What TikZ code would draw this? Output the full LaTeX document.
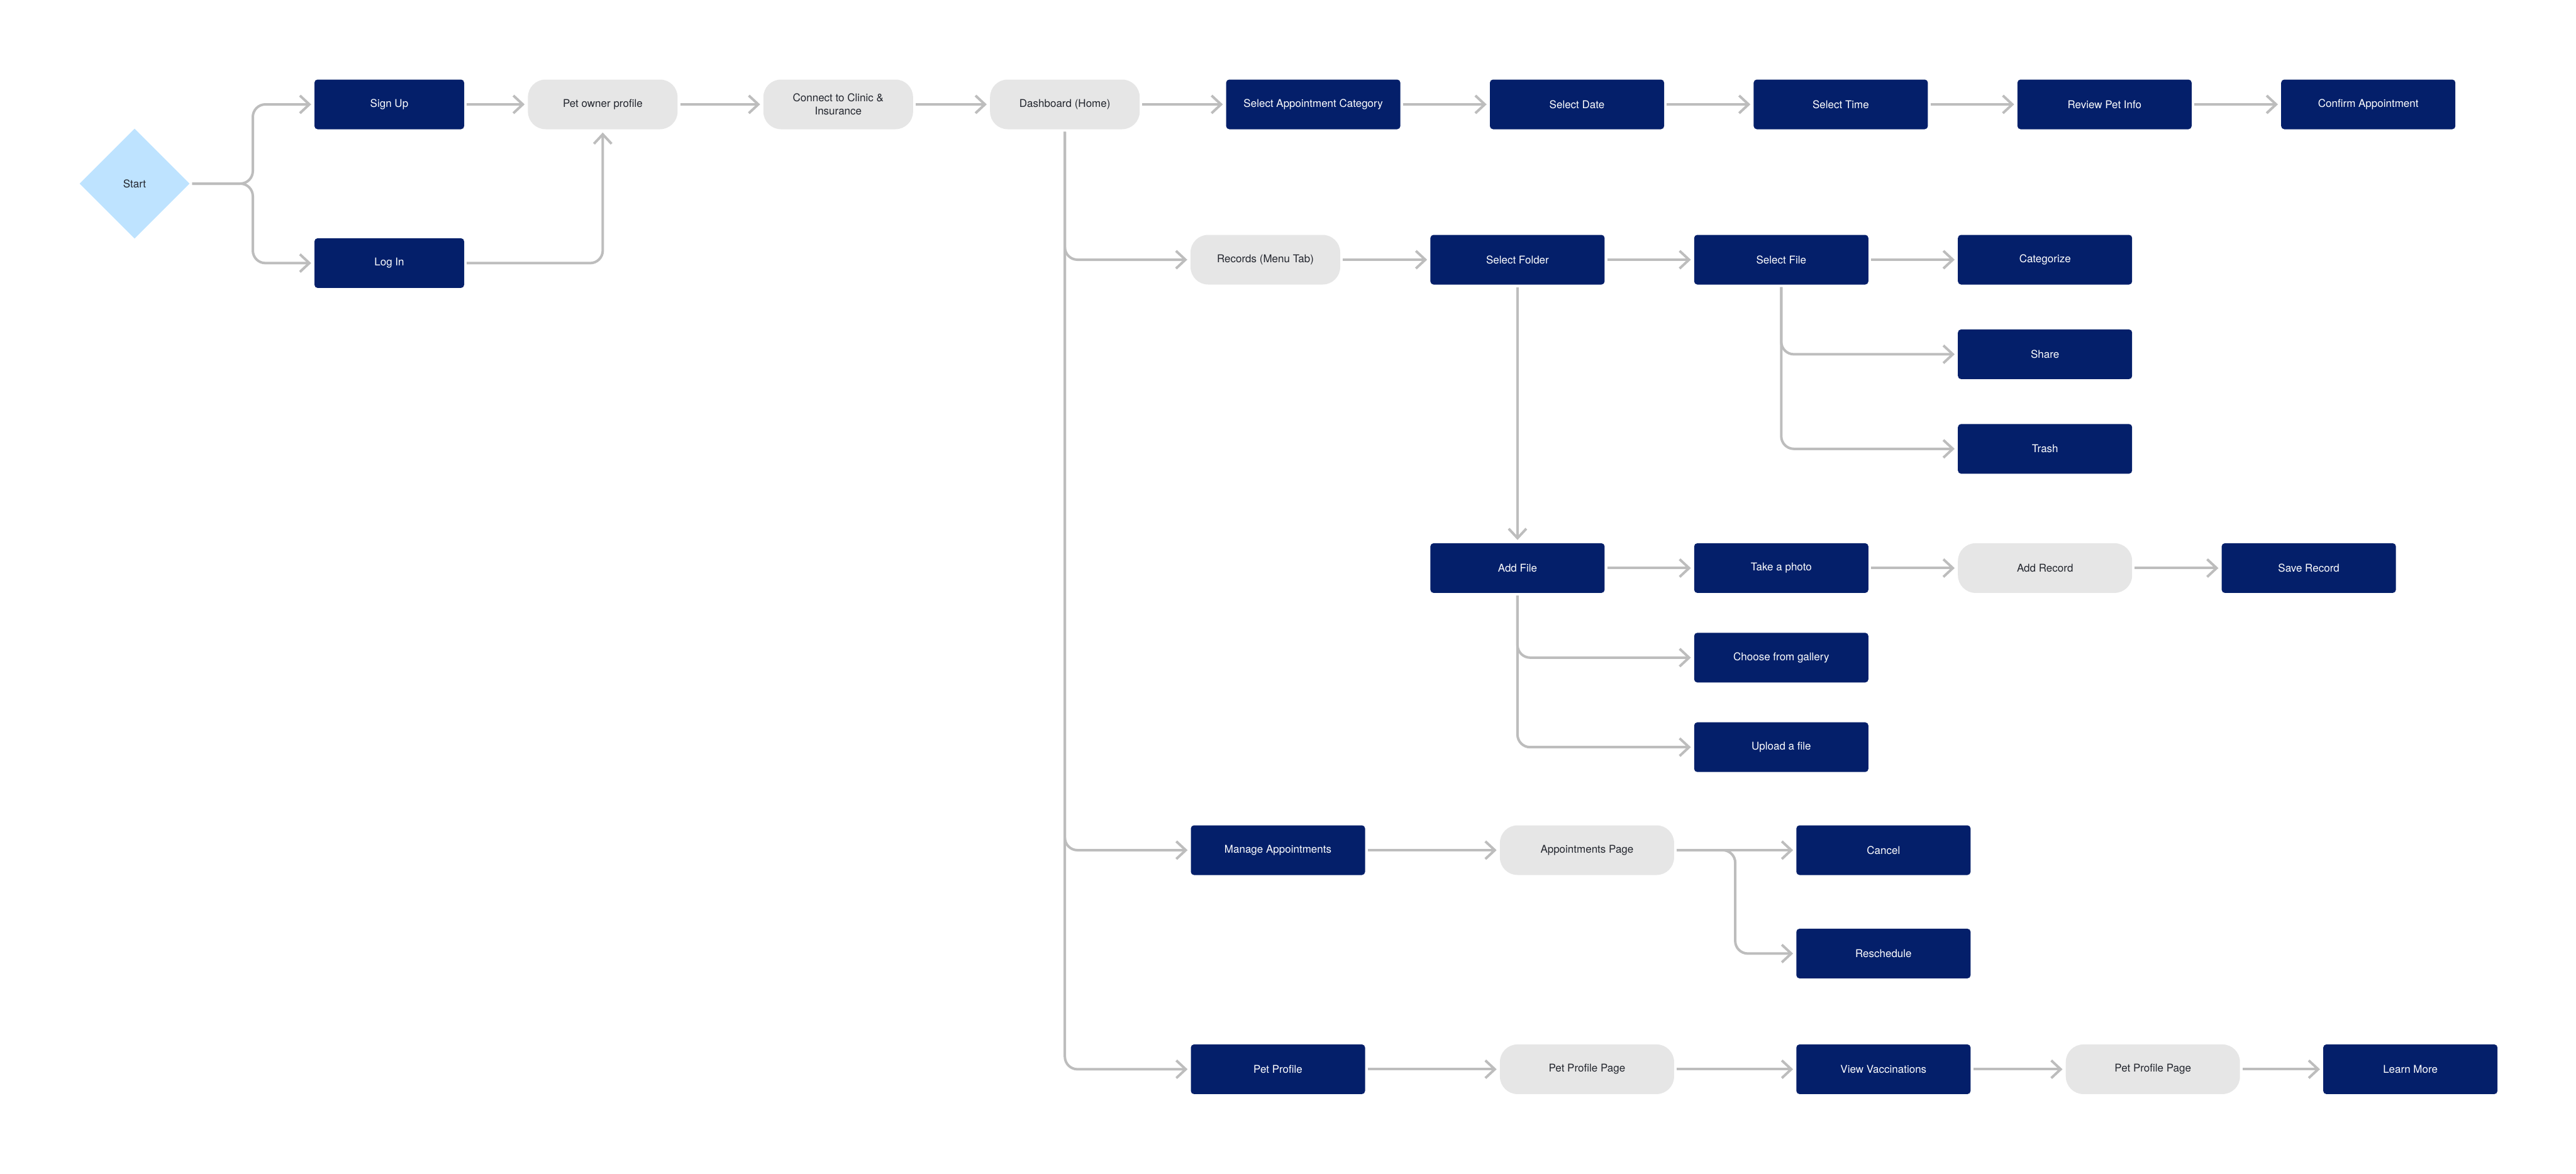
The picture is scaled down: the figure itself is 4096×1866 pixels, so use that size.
\documentclass[tikz,border=0pt]{standalone}
\usepackage{fontspec}
\setmainfont{TeX Gyre Heros}
\usetikzlibrary{arrows.meta, positioning, shapes.geometric}
\definecolor{navy900}{HTML}{041F6A}
\definecolor{grey200}{HTML}{E6E6E6}
\definecolor{grey400}{HTML}{BDBDBD}
\definecolor{ink}{HTML}{23262E}
\definecolor{sky200}{HTML}{BEE3FF}
\tikzset{
  % Flow connector style
  flow/.style={
    draw=grey400
    , line width=4pt
    , rounded corners=20pt
    , -{Straight Barb[length=15pt,width=28pt,line width=4pt]}
    , shorten >=5pt
    , shorten <=4pt
  },
}
\tikzset{
  % action node style
  action/.style={
    fill=navy900
    , text=white
    , rounded corners=5pt
    , minimum width=277pt
    , minimum height=79pt
    , align=center
    , font=\fontsize{17}{21}\selectfont
  },
  % page node style
  pagebox/.style={
    action
    , fill=grey200
    , text=ink
    , rounded corners=28pt
  },
  narrow/.style={minimum width=238pt},
  % start node style
  startbox/.style={
    diamond
    , fill=sky200
    , text=ink
    , minimum width=175pt
    , minimum height=175pt
    , inner sep=0pt
    , font=\fontsize{17}{21}\selectfont
  },
}

\begin{document}
\begin{tikzpicture}[x=1pt, y=-1pt]
      \useasboundingbox (0,0) rectangle (4096,1866);

      % sign up / log in
      \node[startbox] (start) at (214,292) {Start};
      \node[action, narrow] (signup) at (619,166) {Sign Up};
      \node[action, narrow, below=173pt of signup] (login) {Log In};
      \node[pagebox, narrow, right=101pt of signup] (owner) {Pet owner profile};
      \node[pagebox, narrow, right=136pt of owner] (connect) {Connect to Clinic \&\\Insurance};
      \node[pagebox, narrow, right=122pt of connect] (dash) {Dashboard (Home)};

      % booking
      \node[action, right=137pt of dash] (category) {Select Appointment Category};
      \node[action, right=142pt of category] (date) {Select Date};
      \node[action, right=142pt of date] (time) {Select Time};
      \node[action, right=142pt of time] (review) {Review Pet Info};
      \node[action, right=142pt of review] (confirm) {Confirm Appointment};

      % records
      \node[pagebox, narrow] (records) at (2012,413) {Records (Menu Tab)};
      \node[action, right=143pt of records] (folder) {Select Folder};
      \node[action, right=142pt of folder] (file) {Select File};
      \node[action, right=142pt of file] (categorize) {Categorize};
      \node[action, below=71pt of categorize] (share) {Share};
      \node[action, below=71pt of share] (trash) {Trash};

      \node[action, below=411pt of folder] (addfile) {Add File};
      \node[action, right=142pt of addfile] (photo) {Take a photo};
      \node[pagebox, right=142pt of photo] (addrecord) {Add Record};
      \node[action, right=142pt of addrecord] (saverecord) {Save Record};
      \node[action, below=63pt of photo] (gallery) {Choose from gallery};
      \node[action, below=63pt of gallery] (upload) {Upload a file};

      % appointments
      \node[action] (manage) at (2032,1352) {Manage Appointments};
      \node[pagebox, right=214pt of manage] (apptpage) {Appointments Page};
      \node[action, right=194pt of apptpage] (cancel) {Cancel};
      \node[action, below=85pt of cancel] (resched) {Reschedule};

      % pet profile
      \node[action, below=269pt of manage] (petprofile) {Pet Profile};
      \node[pagebox, right=214pt of petprofile] (profpage) {Pet Profile Page};
      \node[action, right=194pt of profpage] (vacc) {View Vaccinations};
      \node[pagebox, right=151pt of vacc] (profpage2) {Pet Profile Page};
      \node[action, right=132pt of profpage2] (learn) {Learn More};

      \coordinate (startfork) at (402,292);
      \coordinate (apptfork) at ([xshift=97pt]apptpage.east);

      \draw[flow] (start.east) -- (startfork) |- (signup.west);
      \draw[flow] (start.east) -- (startfork) |- (login.west);
      \draw[flow] (login.east) -| (owner.south);
      \draw[flow] (signup) -- (owner);
      \draw[flow] (owner) -- (connect);
      \draw[flow] (connect) -- (dash);
      \draw[flow] (dash) -- (category);
      \draw[flow] (category) -- (date);
      \draw[flow] (date) -- (time);
      \draw[flow] (time) -- (review);
      \draw[flow] (review) -- (confirm);

      \draw[flow] (dash.south) |- (records.west);
      \draw[flow] (dash.south) |- (manage.west);
      \draw[flow] (dash.south) |- (petprofile.west);

      \draw[flow] (records) -- (folder);
      \draw[flow] (folder) -- (file);
      \draw[flow] (file) -- (categorize);
      \draw[flow] (file.south) |- (share.west);
      \draw[flow] (file.south) |- (trash.west);
      \draw[flow] (folder) -- (addfile);

      \draw[flow] (addfile) -- (photo);
      \draw[flow] (photo) -- (addrecord);
      \draw[flow] (addrecord) -- (saverecord);
      \draw[flow] (addfile.south) |- (gallery.west);
      \draw[flow] (addfile.south) |- (upload.west);

      \draw[flow] (manage) -- (apptpage);
      \draw[flow] (apptpage) -- (cancel);
      \draw[flow] (apptpage.east) -- (apptfork) |- (resched.west);

      \draw[flow] (petprofile) -- (profpage);
      \draw[flow] (profpage) -- (vacc);
      \draw[flow] (vacc) -- (profpage2);
      \draw[flow] (profpage2) -- (learn);
    \end{tikzpicture}
\end{document}
